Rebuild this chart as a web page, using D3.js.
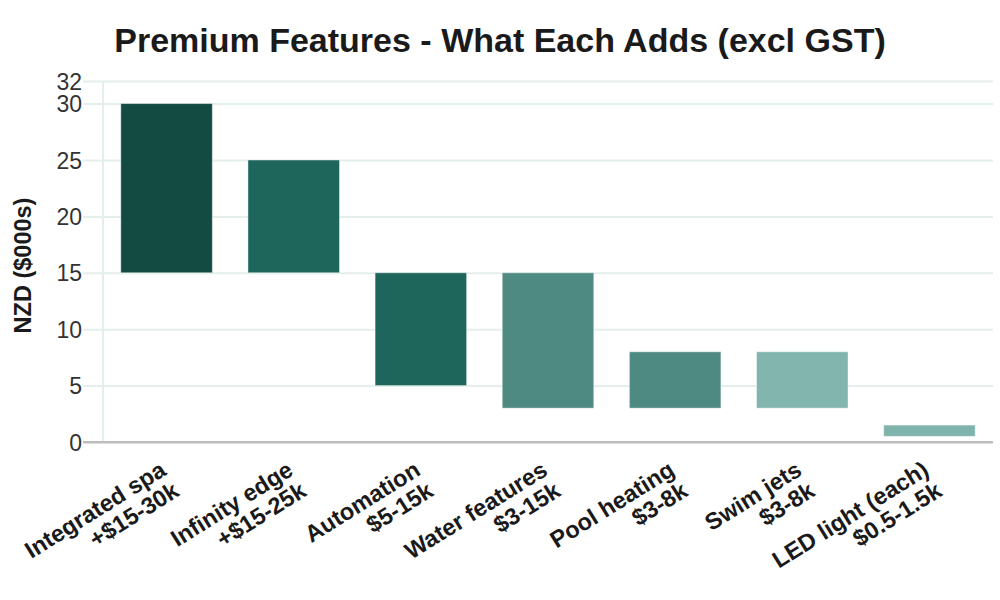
<!DOCTYPE html>
<html><head><meta charset="utf-8">
<script src="https://cdn.jsdelivr.net/npm/d3@7/dist/d3.min.js"></script>
<style>body{margin:0;background:#fff;} svg{display:block;font-family:"Liberation Sans",Arial,sans-serif;}</style>
</head><body><svg id="c" width="1000" height="600"></svg>
<script>
const categories = ["Integrated spa", "Infinity edge", "Automation", "Water features", "Pool heating", "Swim jets", "LED light (each)"];
const rangeLabels = ["+$15-30k", "+$15-25k", "$5-15k", "$3-15k", "$3-8k", "$3-8k", "$0.5-1.5k"];
const lowValues = [15, 15, 5, 3, 3, 3, 0.5];
const highValues = [30, 25, 15, 15, 8, 8, 1.5];
const barColors = ["#134a42", "#1e665c", "#1e665c", "#4f8a82", "#4f8a82", "#82b5ae", "#7fb4ac"];
const yTicks = [0, 5, 10, 15, 20, 25, 30, 32];

const FONT = "'Liberation Sans', Arial, sans-serif";
const svg = d3.select("#c");
const m = {l: 103, r: 993, t: 81, b: 442};
const x = d3.scaleBand().domain(categories).range([m.l, m.r]).paddingInner(0.28).paddingOuter(0.14);
const y = d3.scaleLinear().domain([0, 32]).range([m.b, m.t]);

// gridlines
const yAxis = d3.axisLeft(y).tickValues(yTicks).tickSize(-(m.r - m.l)).tickFormat(d3.format("d"));
const gy = svg.append("g").attr("transform", `translate(${m.l},0)`).call(yAxis)
  .attr("font-family", FONT).attr("font-size", 23);
gy.select(".domain").remove();
gy.selectAll(".tick line").attr("stroke", "#e4efec").attr("stroke-width", 2).attr("x1", -20);
gy.selectAll(".tick text").attr("fill", "#333").attr("x", -21).attr("dy", "0.35em");
gy.selectAll(".tick").filter(d => d === 0).select("line").attr("stroke", "#bdbdbd");

// left vertical line
svg.append("line").attr("x1", m.l).attr("x2", m.l).attr("y1", m.t).attr("y2", m.b).attr("stroke", "#e4efec").attr("stroke-width", 2);

// bars
svg.append("g").selectAll("rect").data(categories).join("rect")
  .attr("x", d => x(d))
  .attr("width", x.bandwidth())
  .attr("y", (d, i) => y(highValues[i]))
  .attr("height", (d, i) => y(lowValues[i]) - y(highValues[i]))
  .attr("fill", (d, i) => barColors[i])
  .attr("stroke", "rgba(255,255,255,0.45)")
  .attr("stroke-width", 1);

// baseline
svg.append("line").attr("x1", m.l - 20).attr("x2", m.r).attr("y1", y(0)).attr("y2", y(0)).attr("stroke", "#bdbdbd").attr("stroke-width", 2);

// x labels
const xl = svg.append("g").attr("font-family", FONT).selectAll("text").data(categories).join("text")
  .attr("transform", d => `translate(${x(d) + x.bandwidth() / 2 + 1},${y(0) + 32}) rotate(-32)`)
  .attr("text-anchor", "end")
  .attr("font-size", 23.5)
  .attr("font-weight", "bold")
  .attr("fill", "#1a1a1a");
xl.append("tspan").attr("x", 0).attr("dy", 0).text(d => d);
xl.append("tspan").attr("x", 0).attr("dy", "1.05em").text((d, i) => rangeLabels[i]);

// y title
svg.append("text").attr("transform", `translate(31,${(m.t + m.b) / 2 + 4}) rotate(-90)`)
  .attr("font-family", FONT)
  .attr("text-anchor", "middle").attr("font-size", 23.5).attr("font-weight", "bold").attr("fill", "#1a1a1a")
  .text("NZD ($000s)");

// title
svg.append("text").attr("x", 500).attr("y", 52).attr("text-anchor", "middle")
  .attr("font-family", FONT)
  .attr("font-size", 34).attr("font-weight", "bold").attr("fill", "#1a1a1a")
  .text("Premium Features - What Each Adds (excl GST)");
</script></body></html>
